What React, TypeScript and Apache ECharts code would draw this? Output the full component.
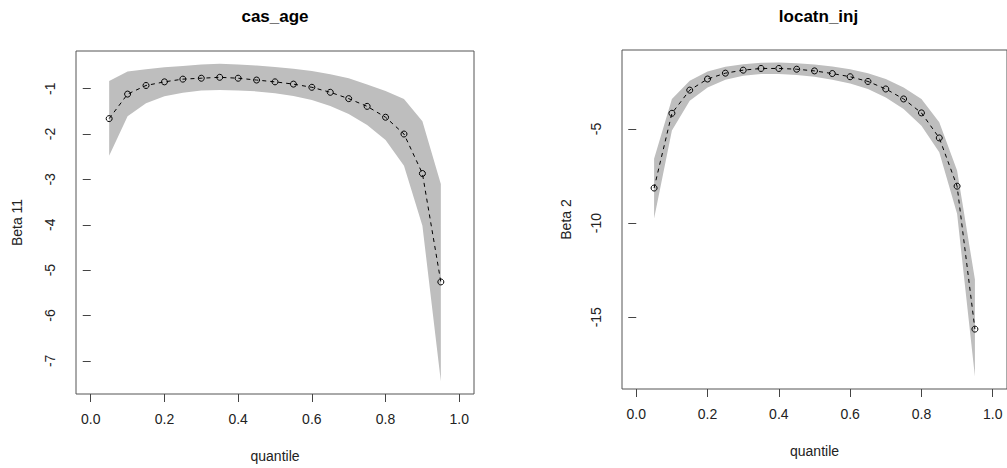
import React, { useEffect, useRef } from "react";
import * as echarts from "echarts";

const quantiles = [0.05, 0.1, 0.15, 0.2, 0.25, 0.3, 0.35, 0.4, 0.45, 0.5, 0.55, 0.6, 0.65, 0.7, 0.75, 0.8, 0.85, 0.9, 0.95];

const casAgeBeta = [-1.66, -1.12, -0.93, -0.85, -0.79, -0.77, -0.75, -0.77, -0.81, -0.85, -0.9, -0.97, -1.08, -1.22, -1.39, -1.63, -2.0, -2.87, -5.26];
const casAgeUpper = [-0.83, -0.62, -0.57, -0.53, -0.5, -0.47, -0.45, -0.47, -0.49, -0.52, -0.56, -0.61, -0.68, -0.77, -0.91, -1.05, -1.23, -1.72, -3.1];
const casAgeLower = [-2.48, -1.61, -1.32, -1.17, -1.09, -1.04, -1.03, -1.04, -1.06, -1.1, -1.16, -1.25, -1.38, -1.56, -1.8, -2.13, -2.7, -4.02, -7.45];

const locatnBeta = [-8.14, -4.17, -2.94, -2.35, -2.04, -1.88, -1.79, -1.79, -1.83, -1.92, -2.06, -2.23, -2.48, -2.88, -3.41, -4.15, -5.48, -8.04, -15.63];
const locatnUpper = [-6.59, -3.41, -2.44, -1.95, -1.7, -1.56, -1.49, -1.48, -1.51, -1.58, -1.69, -1.83, -2.04, -2.35, -2.8, -3.41, -4.65, -7.21, -12.99];
const locatnLower = [-9.76, -5.09, -3.5, -2.8, -2.39, -2.18, -2.09, -2.09, -2.14, -2.23, -2.39, -2.59, -2.88, -3.33, -3.94, -4.83, -6.24, -9.5, -18.14];

const xTicks = [0, 0.2, 0.4, 0.6, 0.8, 1.0];
const casAgeTicks = [-7, -6, -5, -4, -3, -2, -1];
const locatnTicks = [-15, -10, -5];

const titles = ["cas_age", "locatn_inj"];
const yNames = ["Beta 11", "Beta 2"];
const xName = "quantile";

const FONT = "'Liberation Sans', Arial, sans-serif";
const AXIS_COLOR = "#444";
const TEXT_COLOR = "#222";

function bandSeries(idx: number, lower: number[], upper: number[]) {
  return {
    type: "custom",
    xAxisIndex: idx,
    yAxisIndex: idx,
    silent: true,
    z: 1,
    data: quantiles.map((q, i) => [q, lower[i], upper[i]]),
    renderItem: (params: any, api: any) => {
      if (params.dataIndex !== 0) return null;
      const top = quantiles.map((q, i) => api.coord([q, upper[i]]));
      const bottom = quantiles.map((q, i) => api.coord([q, lower[i]])).reverse();
      return {
        type: "polygon",
        shape: { points: top.concat(bottom) },
        style: { fill: "#bebebe", stroke: "none" },
      };
    },
  };
}

function lineSeries(idx: number, values: number[]) {
  return {
    type: "line",
    xAxisIndex: idx,
    yAxisIndex: idx,
    z: 3,
    silent: true,
    data: quantiles.map((q, i) => [q, values[i]]),
    symbol: "circle",
    symbolSize: 6,
    showSymbol: true,
    lineStyle: { color: "#000", width: 1, type: [4, 4] },
    itemStyle: { color: "transparent", borderColor: "#000", borderWidth: 1 },
  };
}

function xAxis(idx: number) {
  return {
    type: "value",
    gridIndex: idx,
    min: -0.04,
    max: 1.04,
    name: xName,
    nameLocation: "middle",
    nameGap: 55,
    nameTextStyle: { fontFamily: FONT, fontSize: 14, color: TEXT_COLOR },
    axisLine: { show: false },
    axisTick: { show: true, inside: false, length: 8, customValues: xTicks, lineStyle: { color: AXIS_COLOR } },
    axisLabel: {
      customValues: xTicks,
      formatter: (v: number) => v.toFixed(1),
      margin: 18,
      fontFamily: FONT,
      fontSize: 14,
      color: TEXT_COLOR,
    },
    splitLine: { show: false },
  };
}

function yAxis(idx: number, min: number, max: number, ticks: number[], name: string, margin: number, nameGap: number) {
  return {
    type: "value",
    gridIndex: idx,
    min,
    max,
    name,
    nameLocation: "middle",
    nameRotate: 90,
    nameGap,
    nameTextStyle: { fontFamily: FONT, fontSize: 14, color: TEXT_COLOR },
    axisLine: { show: false },
    axisTick: { show: true, inside: false, length: 8, customValues: ticks, lineStyle: { color: AXIS_COLOR } },
    axisLabel: {
      customValues: ticks,
      rotate: 90,
      formatter: (v: number) => String(v),
      margin,
      fontFamily: FONT,
      fontSize: 14,
      color: TEXT_COLOR,
    },
    splitLine: { show: false },
  };
}

export default function App() {
  const ref = useRef<HTMLDivElement>(null);
  useEffect(() => {
    if (!ref.current) return;
    const chart = echarts.init(ref.current, undefined, { renderer: "svg" });
    chart.setOption({
      animation: false,
      backgroundColor: "#fff",
      grid: [
        { left: 76, top: 51, width: 398, height: 343, show: true, borderColor: "#555", borderWidth: 1, backgroundColor: "transparent" },
        { left: 622, top: 50, width: 393, height: 339, show: true, borderColor: "#555", borderWidth: 1, backgroundColor: "transparent" },
      ],
      xAxis: [xAxis(0), xAxis(1)],
      yAxis: [
        yAxis(0, -7.73, -0.17, casAgeTicks, yNames[0], 19, 52),
        yAxis(1, -18.81, -0.81, locatnTicks, yNames[1], 19, 49),
      ],
      graphic: [
        {
          type: "text",
          x: 275,
          y: 16,
          style: { text: titles[0], font: `bold 17px ${FONT}`, fill: "#000", align: "center", verticalAlign: "middle" },
        },
        {
          type: "text",
          x: 818.5,
          y: 16,
          style: { text: titles[1], font: `bold 17px ${FONT}`, fill: "#000", align: "center", verticalAlign: "middle" },
        },
      ],
      series: [
        bandSeries(0, casAgeLower, casAgeUpper),
        lineSeries(0, casAgeBeta),
        bandSeries(1, locatnLower, locatnUpper),
        lineSeries(1, locatnBeta),
      ],
    });
    return () => chart.dispose();
  }, []);
  return <div ref={ref} style={{ position: "absolute", left: 0, top: 0, width: 1007, height: 468 }} />;
}
